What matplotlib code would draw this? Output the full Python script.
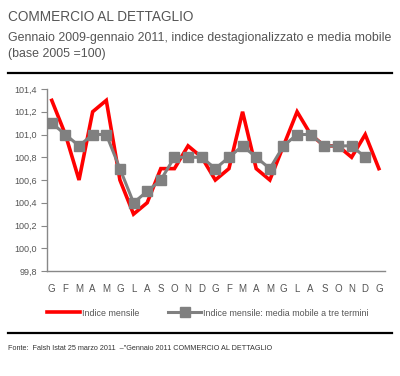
import matplotlib
matplotlib.use("Agg")
import matplotlib.pyplot as plt
from matplotlib.lines import Line2D

months = ["G","F","M","A","M","G","L","A","S","O","N","D",
          "G","F","M","A","M","G","L","A","S","O","N","D","G"]
indice_mensile = [101.3,101.0,100.6,101.2,101.3,100.6,100.3,100.4,100.7,100.7,100.9,100.8,
                  100.6,100.7,101.2,100.7,100.6,100.9,101.2,101.0,100.9,100.9,100.8,101.0,100.7]
media_mobile = [101.1,101.0,100.9,101.0,101.0,100.7,100.4,100.5,100.6,100.8,100.8,100.8,
                100.7,100.8,100.9,100.8,100.7,100.9,101.0,101.0,100.9,100.9,100.9,100.8]
yticks = [99.8,100.0,100.2,100.4,100.6,100.8,101.0,101.2,101.4]

plt.rcParams['font.family'] = ['Liberation Sans', 'DejaVu Sans']
TXT = "#555555"
W, H = 400, 376
fig = plt.figure(figsize=(W/100, H/100), dpi=100)
fig.patch.set_facecolor("white")

ax = fig.add_axes([47/W, 1-271/H, (385-47)/W, (271-89)/H])
x = list(range(len(indice_mensile)))
ax.plot(x, indice_mensile, color="#ff0000", lw=2.6, solid_joinstyle="miter", zorder=2,
        label="Indice mensile")
ax.plot(x[:len(media_mobile)], media_mobile, color="#808080", lw=2.2, marker="s", ms=6.5,
        zorder=3, label="Indice mensile: media mobile a tre termini")
ax.set_xlim(-0.35, 24.45)
ax.set_ylim(99.8, 101.4)
ax.set_yticks(yticks)
ax.set_yticklabels([f"{v:.1f}".replace(".", ",") for v in yticks], fontsize=6.5, color=TXT)
ax.set_xticks(x)
ax.set_xticklabels(months, fontsize=7, color=TXT)
ax.tick_params(axis="x", length=0, pad=9)
ax.tick_params(axis="y", length=4, width=0.8, color="#888888", direction="out", pad=3)
for s in ["top", "right"]:
    ax.spines[s].set_visible(False)
for s in ["left", "bottom"]:
    ax.spines[s].set_color("#888888")
    ax.spines[s].set_linewidth(1.0)

leg = fig.legend(loc="center left", bbox_to_anchor=(47/W, 1-313/H), ncol=2, frameon=False,
                 fontsize=6.4, handlelength=3.7, handletextpad=0.2, columnspacing=3.3,
                 borderaxespad=0, borderpad=0)
for t in leg.get_texts():
    t.set_color(TXT)

fig.text(8/W, 1-17/H, "COMMERCIO AL DETTAGLIO", fontsize=9.8, color=TXT, va="center", ha="left")
fig.text(8/W, 1-38/H, "Gennaio 2009-gennaio 2011, indice destagionalizzato e media mobile",
         fontsize=8.9, color=TXT, va="center", ha="left")
fig.text(8/W, 1-54/H, "(base 2005 =100)", fontsize=8.9, color=TXT, va="center", ha="left")
fig.add_artist(Line2D([8/W, 392/W], [1-73/H, 1-73/H], color="black", lw=1.6))
fig.add_artist(Line2D([8/W, 392/W], [1-333/H, 1-333/H], color="black", lw=1.6))
fig.text(8/W, 1-348/H, "Fonte:  Falsh Istat 25 marzo 2011  \u2013\"Gennaio 2011 COMMERCIO AL DETTAGLIO",
         fontsize=5.2, color="#333333", va="center", ha="left")

fig.savefig("out.png", dpi=100, facecolor="white")
